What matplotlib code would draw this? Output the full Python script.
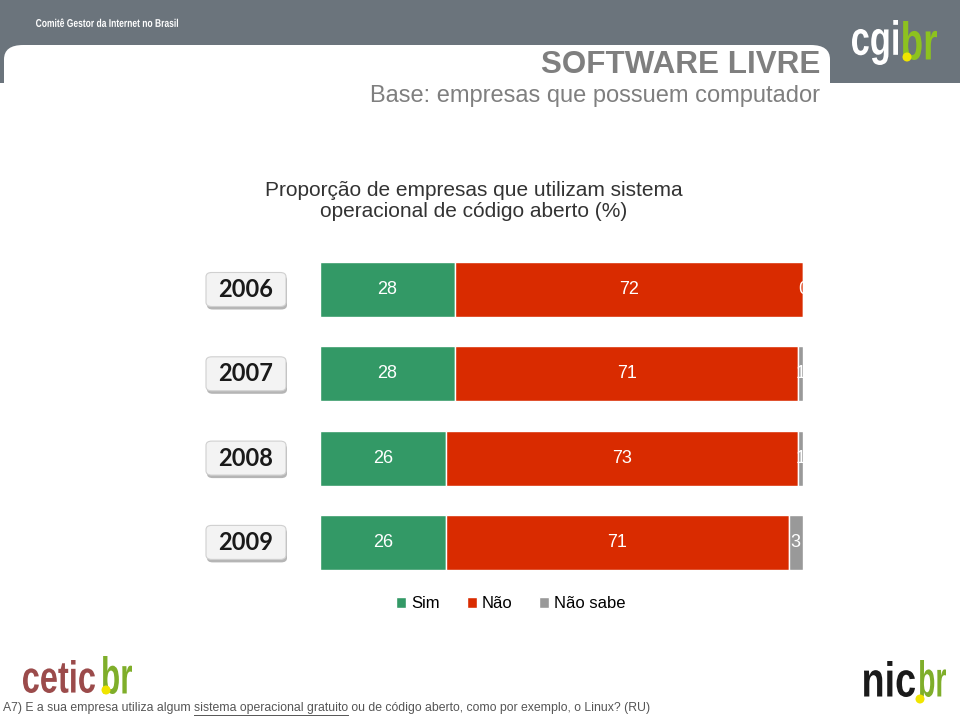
import matplotlib
matplotlib.use('Agg')
import matplotlib.pyplot as plt
from matplotlib.patches import FancyBboxPatch, Rectangle, PathPatch
from matplotlib.textpath import TextPath
from matplotlib.font_manager import FontProperties
from matplotlib.transforms import Affine2D
import numpy as np

plt.rcParams['font.family'] = ['Liberation Sans', 'DejaVu Sans']

# --- data ---
years = ['2006', '2007', '2008', '2009']
sim = [28, 28, 26, 26]
nao = [72, 71, 73, 71]
nao_sabe = [0, 1, 1, 3]
series_names = ['Sim', 'Não', 'Não sabe']
colors = ['#339966', '#d92b00', '#999999']

W, H = 960, 717
fig = plt.figure(figsize=(W / 100, H / 100), dpi=100)


def fx(x):
    return x / W


def fy(y):
    return 1 - y / H


def fit_text(s, x0, x1, ytop, ybot, color, weight='bold', z=3):
    # squeeze a text path into a pixel box (used for the condensed logo lettering)
    fp = FontProperties(family='Liberation Sans', weight=weight)
    tp = TextPath((0, 0), s, size=1, prop=fp)
    ext = tp.get_extents()
    sx = (x1 - x0) / ext.width
    sy = (ybot - ytop) / ext.height
    tr = (Affine2D().translate(-ext.x0, -ext.y0).scale(sx / W, sy / H)
          .translate(fx(x0), fy(ybot)) + fig.transFigure)
    fig.patches.append(PathPatch(tp, transform=tr, facecolor=color,
                                 edgecolor='none', zorder=z))


def dot(x, y, r=4.5, z=4):
    fig.patches.append(matplotlib.patches.Ellipse((fx(x), fy(y)), 2 * r / W, 2 * r / H,
                                                  transform=fig.transFigure,
                                                  facecolor='#f0e500', edgecolor='none',
                                                  zorder=z))


# --- header ---
fig.patches.append(Rectangle((0, fy(83)), 1, 83 / H, transform=fig.transFigure,
                             facecolor='#6b747c', edgecolor='none', zorder=0))
fig.patches.append(FancyBboxPatch((fx(4), fy(200)), fx(826), 155 / H,
                                  boxstyle='round,pad=0,rounding_size=0.02',
                                  transform=fig.transFigure, facecolor='white',
                                  edgecolor='none', zorder=1))
fit_text('Comitê Gestor da Internet no Brasil', 36, 178, 18.5, 27, 'white')
fig.text(fx(820), fy(65), 'SOFTWARE LIVRE', color='#7f7f7f', fontsize=22.6,
         fontweight='bold', ha='right', va='center', zorder=2)
fig.text(fx(820), fy(96), 'Base: empresas que possuem computador', color='#7f7f7f',
         fontsize=17, ha='right', va='center', zorder=2)

# cgi.br logo
fit_text('cgi', 852, 898, 20, 65, 'white')
fit_text('br', 903, 937, 21, 60, '#8dc21f')
dot(907, 57)

# --- title ---
fig.text(fx(474), fy(201), 'Proporção de empresas que utilizam sistema\noperacional de código aberto (%)',
         ha='center', va='center', fontsize=15, color='#333333', linespacing=1.1)

# --- bars ---
ax = fig.add_axes([fx(320), fy(570), 483 / W, 308 / H])
ypos = np.arange(len(years))
left = np.zeros(len(years))
for vals, col, name in zip([sim, nao, nao_sabe], colors, series_names):
    vals = np.array(vals, dtype=float)
    ax.barh(ypos, vals, left=left, height=0.65, color=col, edgecolor='white',
            linewidth=1, label=name)
    for i, v in enumerate(vals):
        cx = left[i] + v / 2
        ax.text(cx, ypos[i], f'{int(v)}', ha='center', va='center', color='white',
                fontsize=13, clip_on=True)
    left += vals
ax.set_xlim(0, 100)
ax.set_ylim(3.325, -0.325)
ax.axis('off')

# year buttons
for i, yr in enumerate(years):
    ycen = 289.5 + i * 84.3
    bx, bw, bh = 206, 80, 34
    fig.patches.append(FancyBboxPatch((fx(bx + 1), fy(ycen + bh / 2 + 3)), bw / W, bh / H,
                                      boxstyle='round,pad=0,rounding_size=0.006',
                                      transform=fig.transFigure, facecolor='#b5b5b5',
                                      edgecolor='none', zorder=1))
    fig.patches.append(FancyBboxPatch((fx(bx), fy(ycen + bh / 2)), bw / W, bh / H,
                                      boxstyle='round,pad=0,rounding_size=0.006',
                                      transform=fig.transFigure, facecolor='#f3f3f3',
                                      edgecolor='#d0d0d0', linewidth=0.8, zorder=2))
    fig.text(fx(bx + bw / 2), fy(ycen), yr, ha='center', va='center', fontsize=17,
             fontweight='bold', color='#1a1a1a', family=['Lato', 'DejaVu Sans'], zorder=3)

# legend
fig.legend(loc='center', bbox_to_anchor=(fx(511), fy(604)), ncol=3, frameon=False,
           fontsize=12, handlelength=0.6, handleheight=0.6, handletextpad=0.3,
           columnspacing=1.6)

# --- footer logos ---
fit_text('cetic', 23, 95, 660, 693, '#9b4b4b')
fit_text('br', 103, 132, 656, 694, '#7fae2a')
dot(106, 690)
fit_text('nic', 864, 915, 661, 697, '#1a1a1a')
fit_text('br', 920, 946, 660, 697, '#7fae2a')
dot(920, 699)

# footnote with underlined part
parts = ['A7) E a sua empresa utiliza algum ', 'sistema operacional gratuito',
         ' ou de código aberto, como por exemplo, o Linux? (RU)']
renderer = fig.canvas.get_renderer()
xcur = fx(3)
for k, p in enumerate(parts):
    t = fig.text(xcur, fy(708), p, ha='left', va='center', fontsize=8.85, color='#555555')
    bb = t.get_window_extent(renderer=renderer).transformed(fig.transFigure.inverted())
    if k == 1:
        fig.add_artist(plt.Line2D([bb.x0, bb.x1], [fy(714.5), fy(714.5)], color='#555555',
                                  linewidth=0.7, transform=fig.transFigure))
    xcur = bb.x1

fig.savefig('out.png', dpi=100)
